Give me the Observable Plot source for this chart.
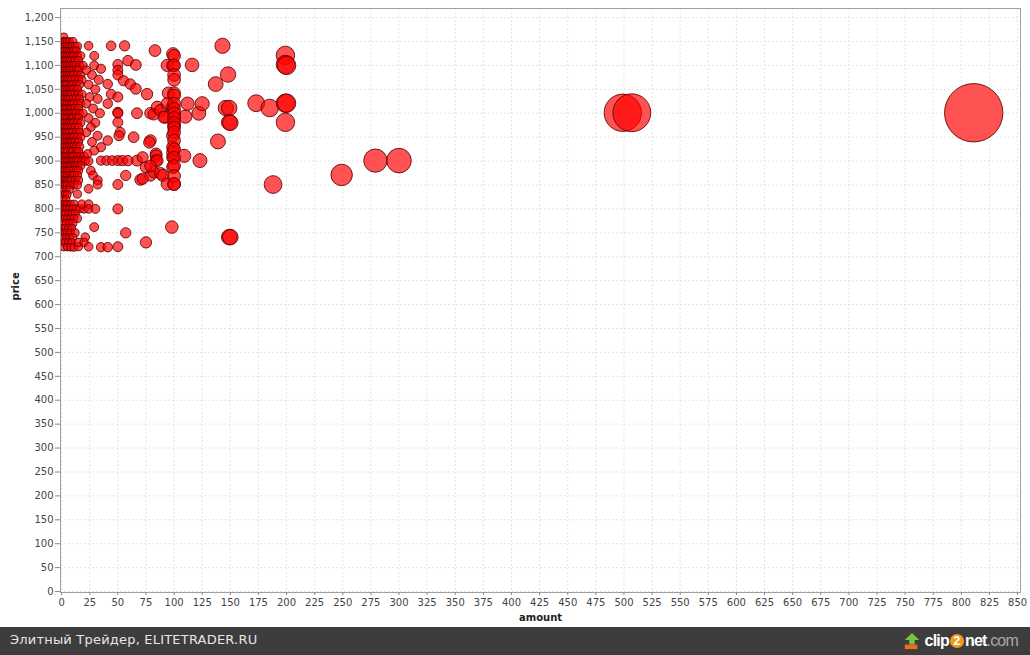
<!DOCTYPE html>
<html>
<head>
<meta charset="utf-8">
<script src="https://cdn.jsdelivr.net/npm/d3@7"></script>
<script src="https://cdn.jsdelivr.net/npm/@observablehq/plot@0.6"></script>
<style>
  html, body { margin: 0; padding: 0; background: #ffffff; }
  #wrap { width: 1030px; height: 655px; position: relative; overflow: hidden; }
  #band { position: absolute; left: 0; top: 627px; width: 1030px; height: 28px; background: #3d3d3d; }
  #band .src { position: absolute; left: 10px; top: 5px; font-family: "DejaVu Sans", sans-serif; font-size: 13px; color: #e6e6e6; letter-spacing: 0.2px; }
  #band .logo { position: absolute; right: 12px; top: 3px; height: 22px; display: flex; align-items: center; font-family: "Liberation Sans", Arial, sans-serif; font-weight: bold; font-size: 16px; letter-spacing: -0.8px; }
  #band .logo .w { color: #ffffff; }
  #band .logo .o { display: inline-block; width: 14px; height: 14px; border-radius: 50%; background: #f39a1e; color: #fff; font-size: 12px; line-height: 14px; text-align: center; margin: 0 1px; letter-spacing: 0; }
  #band .logo .g { color: #a8a8a8; font-weight: normal; }
</style>
</head>
<body>
<div id="wrap">
  <div id="chart"></div>
  <div id="band">
    <div class="src">Элитный Трейдер, ELITETRADER.RU</div>
    <div class="logo">
      <svg width="18" height="20" viewBox="0 0 20 20" style="margin-right:4px">
        <polygon points="10,1 18,9 13,9 13,14 7,14 7,9 2,9" fill="#7cc242"/>
        <rect x="2" y="14" width="14" height="5" fill="#f06a1a"/>
      </svg>
      <span class="w">clip</span><span class="o">2</span><span class="w">net</span><span class="g">.com</span>
    </div>
  </div>
</div>
<script>
// ---- tick labels ----
const xTicks = [0,25,50,75,100,125,150,175,200,225,250,275,300,325,350,375,400,425,450,475,500,525,550,575,600,625,650,675,700,725,750,775,800,825,850];
const yTicks = [0,50,100,150,200,250,300,350,400,450,500,550,600,650,700,750,800,850,900,950,1000,1050,1100,1150,1200];

// ---- dense block of small trades: [price, amounts at that price] ----
const denseRows = [
  [1160, [2]],
  [1150, [1,2,3,5,7,10]],
  [1140, [1,2,3,5,7,9,12,14]],
  [1130, [1,2,3,5,7,9,11,13]],
  [1120, [1,2,3,5,7,9,11,14,17]],
  [1110, [1,2,3,5,7,9,12,15]],
  [1100, [1,2,3,5,7,9,11,13,16,19]],
  [1090, [1,2,3,5,7,10,13,15]],
  [1080, [1,2,3,5,7,9,11,14,17]],
  [1070, [1,2,3,5,7,9,12,15,18]],
  [1060, [1,2,3,5,8,10,13,16]],
  [1050, [1,2,3,5,7,9,11,14]],
  [1040, [1,2,3,5,7,9,12,15,18]],
  [1030, [1,2,3,5,7,10,13,16]],
  [1020, [1,2,3,5,7,9,11,14,17]],
  [1010, [1,2,3,5,7,9,12,15]],
  [1000, [1,2,3,5,7,9,11,13,16,19]],
  [990,  [1,2,3,5,8,10,13,15]],
  [980,  [1,2,3,5,7,9,11,14,17]],
  [970,  [1,2,3,5,7,9,12,15]],
  [960,  [1,2,3,5,7,10,13,16]],
  [950,  [1,2,3,5,7,9,11,14,17]],
  [940,  [1,2,3,5,7,9,12,15]],
  [930,  [1,2,3,5,7,9,11,13,16]],
  [920,  [1,2,3,5,8,10,13,15]],
  [910,  [1,2,3,5,7,9,11,14,17,20]],
  [900,  [1,2,3,5,7,9,11,13,15,18,21,24]],
  [890,  [1,2,3,5,7,9,12,14,17]],
  [880,  [1,2,3,5,7,10,13,15]],
  [870,  [1,2,3,5,7,9,11,14]],
  [860,  [1,2,3,5,7,9,12,15]],
  [850,  [1,2,3,5,8,11,14]],
  [840,  [1,4,7]],
  [830,  [1,3,5]],
  [820,  [1,4]],
  [810,  [1,3,5,8,11]],
  [800,  [1,2,3,5,7,10,13,16,20]],
  [790,  [1,3,6,9,12]],
  [780,  [1,3,5,8,11,14]],
  [770,  [1,4,7,10]],
  [760,  [1,3,6,9]],
  [750,  [1,3,5,8,12]],
  [740,  [1,4,7,10]],
  [730,  [1,3,6,9]],
  [720,  [2,5,8,11]]
];

// ---- scattered small/medium trades: [amount, price] ----
const nearScatter = [
  [24,1141],[29,1120],[29,1100],[35,1093],[22,1090],[27,1080],[33,1070],[24,1060],[30,1050],
  [25,1034],[32,1030],[22,1020],[28,1010],[34,1000],[24,990],[30,980],[26,971],[22,960],
  [32,953],[27,940],[35,929],[29,922],[23,915],[26,880],[28,870],[32,860],[24,842],[32,851],
  [14,831],[18,810],[24,810],[24,800],[30,800],[29,762],[15,721],[15,730],[21,741],[20,730],
  [24,721],[35,720],[41,720]
];

const midScatter = [
  [44,1141],[56,1141],[83,1131],[99,1124],[50,1102],[59,1110],[66,1101],[94,1100],[99,1100],
  [116,1101],[50,1090],[50,1080],[55,1068],[41,1061],[61,1061],[66,1051],[76,1040],[95,1042],
  [100,1042],[44,1040],[50,1034],[41,1020],[50,1002],[50,1000],[67,1000],[79,1000],[82,998],
  [85,1013],[88,1006],[94,1020],[99,1013],[92,992],[100,992],[91,992],[110,993],[112,1020],
  [122,1000],[125,1020],[100,974],[50,981],[52,960],[51,953],[64,950],[79,943],[78,939],
  [99,953],[99,929],[41,943],[35,901],[40,901],[45,901],[50,901],[54,901],[59,901],[67,901],
  [72,908],[84,915],[84,911],[84,901],[85,901],[99,908],[99,918],[99,887],[109,911],[123,901],
  [57,870],[50,851],[70,861],[79,870],[82,877],[88,874],[90,870],[94,852],[100,852],[75,887],
  [79,890],[72,863],[50,800],[57,750],[98,762],[75,730],[50,721]
];

const column100 = [
  [100,1120],[100,1100],[100,1080],[100,1070],[100,1037],[100,1020],[100,1009],[100,1000],
  [100,990],[100,980],[100,970],[100,960],[100,943],[100,925],[100,907],[100,890],[100,869],[100,852]
];

const largeTrades = [
  [143,1141],[137,1061],[148,1081],[146,1011],[149,1011],[149,981],[150,980],[139,941],
  [149,741],[150,741],[173,1021],[185,1011],[199,1121],[199,1102],[200,1100],[199,1021],
  [200,1021],[199,981],[188,851],[249,871],[279,901],[300,901],[499,1001],[507,1001],[811,1001]
];

// ---- build table ----
const trades = [];
for (const [p, amts] of denseRows) for (const a of amts) trades.push({amount: a, price: p});
for (const arr of [nearScatter, midScatter, column100, largeTrades])
  for (const [a, p] of arr) trades.push({amount: a, price: p});

const fmt = d3.format(",");

const chart = Plot.plot({
  width: 1030,
  height: 627,
  marginLeft: 60,
  marginRight: 10,
  marginTop: 8,
  marginBottom: 35,
  style: {fontFamily: "DejaVu Sans, sans-serif", fontSize: "10px", color: "#444444", background: "#ffffff"},
  x: {domain: [-1, 852.6], label: null},
  y: {domain: [-2, 1219], label: null},
  r: {type: "pow", exponent: 1.1, domain: [0, 812], range: [3.8, 29.2]},
  marks: [
    Plot.gridX(xTicks, {stroke: "#e4e4e4", strokeOpacity: 1, strokeDasharray: "2,2"}),
    Plot.gridY(yTicks, {stroke: "#e4e4e4", strokeOpacity: 1, strokeDasharray: "2,2"}),
    Plot.dot(trades, {
      x: "amount", y: "price", r: "amount",
      fill: "#ff0000", fillOpacity: 0.68,
      stroke: "#5a0000", strokeOpacity: 0.85, strokeWidth: 1,
      clip: "frame", sort: null
    }),
    Plot.frame({stroke: "#a0a0a0"}),
    Plot.axisX(xTicks, {tickSize: 3, tickPadding: 3, stroke: "#888", tickFormat: d => String(d), fill: "#444"}),
    Plot.axisY(yTicks, {tickSize: 5, tickPadding: 2, stroke: "#888", tickFormat: fmt, fill: "#444"}),
    Plot.text(["amount"], {frameAnchor: "bottom", dy: 28, fontWeight: "bold", fontSize: 10, fill: "#222"}),
    Plot.text(["price"], {frameAnchor: "left", dx: -45, rotate: -90, fontWeight: "bold", fontSize: 10, fill: "#222"})
  ]
});
document.getElementById("chart").appendChild(chart);
</script>
</body>
</html>
